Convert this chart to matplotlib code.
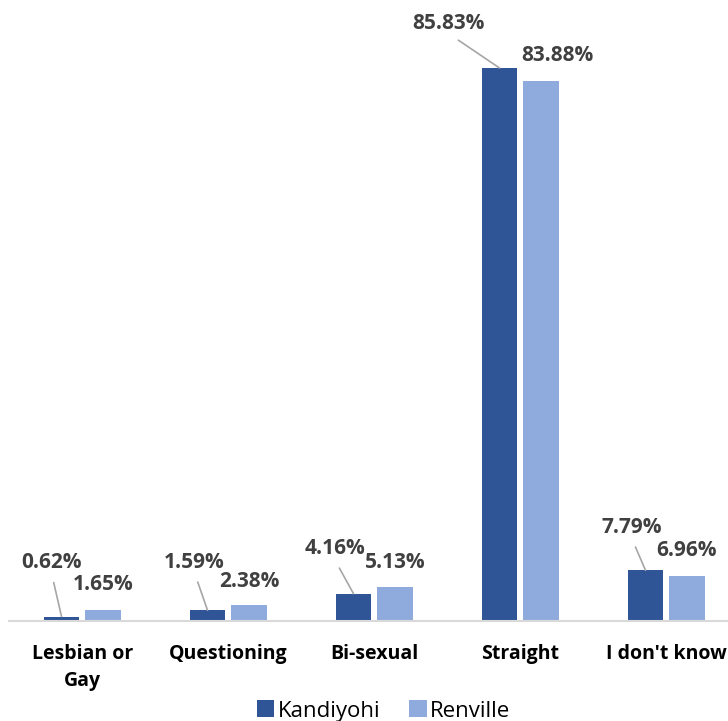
import matplotlib.pyplot as plt
import numpy as np

plt.rcParams['font.family'] = ['Open Sans', 'DejaVu Sans']

categories = ["Lesbian or\nGay", "Questioning", "Bi-sexual", "Straight", "I don't know"]
kandiyohi = [0.62, 1.59, 4.16, 85.83, 7.79]
renville = [1.65, 2.38, 5.13, 83.88, 6.96]

dark_blue = "#2F5597"
light_blue = "#8FAADC"
label_color = "#404040"

# label offsets in pixels from the top of each bar (Excel hand-placed labels)
k_offsets = [(-10, 54), (-13, 48), (-19, 45), (-51, 45), (-14, 43)]
r_offsets = [(0, 25), (0, 24), (0, 25), (16, 25), (0, 25)]

fig = plt.figure(figsize=(7.28, 7.21), dpi=100)
ax = fig.add_axes([9.25 / 728, 100.5 / 721, 730 / 728, 620.5 / 721])

x = np.arange(len(categories))
width = 0.24
offset = 0.142

bars_k = ax.bar(x - offset, kandiyohi, width, color=dark_blue, label="Kandiyohi")
bars_r = ax.bar(x + offset, renville, width, color=light_blue, label="Renville")

for xi, val, (dx, dy) in zip(x - offset, kandiyohi, k_offsets):
    ax.annotate(f"{val:.2f}%", xy=(xi, val), xytext=(dx, dy), textcoords="offset pixels",
                ha="center", va="center", fontsize=15, fontweight="bold", color=label_color,
                arrowprops=dict(arrowstyle="-", color="#A6A6A6", lw=1.2,
                                shrinkA=5, shrinkB=0, relpos=(0.5, 0)))

for xi, val, (dx, dy) in zip(x + offset, renville, r_offsets):
    ax.annotate(f"{val:.2f}%", xy=(xi, val), xytext=(dx, dy), textcoords="offset pixels",
                ha="center", va="center", fontsize=15, fontweight="bold", color=label_color)

ax.set_xlim(-0.5, len(categories) - 0.5)
ax.set_ylim(0, 620.5 / 6.437)
ax.set_xticks(x)
ax.set_xticklabels(categories, fontsize=14, fontweight="bold", color="black", linespacing=1.45)
ax.tick_params(axis="x", length=0, pad=17)
ax.set_yticks([])
for side in ["top", "left", "right"]:
    ax.spines[side].set_visible(False)
ax.spines["bottom"].set_color("#D9D9D9")
ax.spines["bottom"].set_linewidth(1.5)

fig.legend(handles=[bars_k, bars_r], labels=["Kandiyohi", "Renville"], loc="center",
           bbox_to_anchor=(383.5 / 728, 1 - 711 / 721), ncol=2, frameon=False,
           fontsize=16, handlelength=0.8, handleheight=0.8, handletextpad=0.15,
           columnspacing=1.3, borderpad=0)

fig.savefig("out.png", dpi=100)
